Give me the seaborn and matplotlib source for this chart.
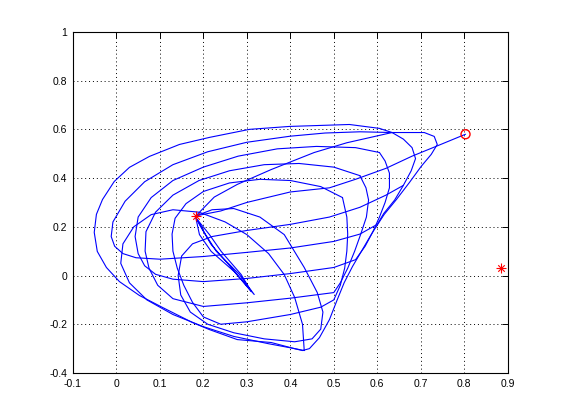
import numpy as np
import pandas as pd
import matplotlib
matplotlib.use("Agg")
import matplotlib.pyplot as plt
import seaborn as sns

# start point, end point and target
start_x, start_y = [0.803], [0.58]
end_x, end_y = [0.182], [0.243]
target_x, target_y = [0.884], [0.029]

# path from the start point to the centre
approach_x = [0.803, 0.735, 0.68, 0.62, 0.55, 0.49, 0.40, 0.30, 0.24, 0.183]
approach_y = [0.58, 0.53, 0.49, 0.44, 0.395, 0.36, 0.343, 0.30, 0.265, 0.245]

# outer loop
loop1_x = [0.634, 0.708, 0.731, 0.738, 0.724, 0.701, 0.674, 0.644, 0.616, 0.589, 0.566, 0.543,
           0.524, 0.508, 0.490, 0.467, 0.444, 0.428, 0.409, 0.356, 0.278, 0.214, 0.175, 0.106,
           0.053, 0.007, -0.023, -0.044, -0.051, -0.046, -0.032, -0.005, 0.030, 0.076, 0.145,
           0.214, 0.306, 0.398, 0.536, 0.605, 0.634]
loop1_y = [0.587, 0.587, 0.571, 0.538, 0.497, 0.448, 0.382, 0.312, 0.251, 0.177, 0.107, 0.037,
           -0.029, -0.099, -0.181, -0.255, -0.300, -0.308, -0.300, -0.275, -0.263, -0.222, -0.193,
           -0.131, -0.082, -0.025, 0.033, 0.099, 0.177, 0.251, 0.312, 0.386, 0.444, 0.489, 0.538,
           0.567, 0.600, 0.612, 0.620, 0.604, 0.587]

# inner loops
loop2_x = [0.634, 0.56, 0.48, 0.40, 0.30, 0.21, 0.13, 0.065, 0.02, -0.008, -0.012, -0.004, 0.015,
           0.045, 0.1, 0.2, 0.3, 0.4, 0.5, 0.56, 0.60, 0.615, 0.64, 0.66, 0.678, 0.688, 0.68,
           0.66, 0.634]
loop2_y = [0.587, 0.59, 0.585, 0.572, 0.547, 0.508, 0.455, 0.385, 0.305, 0.22, 0.16, 0.12, 0.09,
           0.073, 0.067, 0.078, 0.095, 0.113, 0.14, 0.17, 0.21, 0.255, 0.31, 0.37, 0.43, 0.48,
           0.525, 0.56, 0.587]

loop3_x = [0.605, 0.55, 0.46, 0.37, 0.28, 0.2, 0.13, 0.08, 0.05, 0.043, 0.05, 0.065, 0.09, 0.13,
           0.2, 0.3, 0.4, 0.5, 0.55, 0.572, 0.59, 0.605, 0.618, 0.628, 0.628, 0.618, 0.605]
loop3_y = [0.505, 0.525, 0.53, 0.52, 0.49, 0.445, 0.39, 0.32, 0.24, 0.16, 0.09, 0.04, 0.005,
           -0.015, -0.025, -0.012, 0.008, 0.033, 0.065, 0.12, 0.18, 0.24, 0.30, 0.36, 0.42, 0.47,
           0.505]

loop4_x = [0.56, 0.5, 0.42, 0.34, 0.26, 0.19, 0.13, 0.09, 0.068, 0.066, 0.075, 0.095, 0.13, 0.2,
           0.3, 0.4, 0.5, 0.515, 0.532, 0.548, 0.562, 0.575, 0.58, 0.574, 0.56]
loop4_y = [0.41, 0.445, 0.46, 0.455, 0.43, 0.39, 0.33, 0.26, 0.18, 0.1, 0.03, -0.04, -0.095,
           -0.127, -0.112, -0.093, -0.07, -0.03, 0.03, 0.1, 0.17, 0.24, 0.31, 0.36, 0.41]

loop5_x = [0.52, 0.47, 0.40, 0.33, 0.26, 0.2, 0.16, 0.135, 0.128, 0.13, 0.14, 0.155, 0.175, 0.2,
           0.24, 0.3, 0.4, 0.47, 0.5, 0.515, 0.525, 0.53, 0.532, 0.53, 0.52]
loop5_y = [0.32, 0.365, 0.39, 0.395, 0.38, 0.345, 0.295, 0.235, 0.17, 0.1, 0.03, -0.04, -0.11,
           -0.17, -0.2, -0.19, -0.16, -0.13, -0.1, -0.04, 0.03, 0.1, 0.17, 0.24, 0.32]

loop6_x = [0.66, 0.62, 0.56, 0.49, 0.40, 0.30, 0.22, 0.175, 0.15, 0.142, 0.148, 0.17, 0.21, 0.27,
           0.34, 0.41, 0.45, 0.47, 0.475, 0.462, 0.432, 0.386, 0.33, 0.27, 0.22, 0.183]
loop6_y = [0.37, 0.33, 0.28, 0.24, 0.21, 0.185, 0.16, 0.13, 0.08, 0.0, -0.08, -0.15, -0.2, -0.235,
           -0.26, -0.272, -0.26, -0.22, -0.15, -0.07, 0.033, 0.168, 0.24, 0.275, 0.27, 0.245]

loop7_x = [0.432, 0.428, 0.41, 0.386, 0.35, 0.3, 0.25, 0.19, 0.13, 0.08, 0.04, 0.015, 0.01, 0.03,
           0.07, 0.13, 0.2, 0.27, 0.35, 0.41, 0.432]
loop7_y = [-0.308, -0.2, -0.09, 0.004, 0.09, 0.168, 0.22, 0.26, 0.27, 0.25, 0.2, 0.13, 0.05,
           -0.03, -0.1, -0.16, -0.21, -0.25, -0.28, -0.3, -0.308]

ray_x = [0.183, 0.225, 0.278, 0.356, 0.455, 0.53, 0.634]
ray_y = [0.245, 0.322, 0.374, 0.435, 0.505, 0.545, 0.587]

# thin loops from the centre
needle_x = [0.182, 0.191, 0.218, 0.271, 0.317, 0.283, 0.230, 0.205, 0.186, 0.214, 0.241, 0.287,
            0.310, 0.264, 0.218, 0.191, 0.182]
needle_y = [0.242, 0.168, 0.099, 0.016, -0.078, 0.004, 0.099, 0.168, 0.230, 0.168, 0.099, 0.004,
            -0.066, 0.033, 0.127, 0.209, 0.242]

xticks = [-0.1, 0, 0.1, 0.2, 0.3, 0.4, 0.5, 0.6, 0.7, 0.8, 0.9]
xtick_labels = ['-0.1', '0', '0.1', '0.2', '0.3', '0.4', '0.5', '0.6', '0.7', '0.8', '0.9']
yticks = [-0.4, -0.2, 0, 0.2, 0.4, 0.6, 0.8, 1]
ytick_labels = ['-0.4', '-0.2', '0', '0.2', '0.4', '0.6', '0.8', '1']

segments = [(approach_x, approach_y), (loop1_x, loop1_y), (loop2_x, loop2_y),
            (loop3_x, loop3_y), (loop4_x, loop4_y), (loop5_x, loop5_y),
            (loop6_x, loop6_y), (loop7_x, loop7_y), (ray_x, ray_y), (needle_x, needle_y)]
rows = []
for i, (xs, ys) in enumerate(segments):
    for xv, yv in zip(xs, ys):
        rows.append({'seg': i, 'x': xv, 'y': yv})
df = pd.DataFrame(rows)

sns.set_style('white')
plt.rcParams['font.family'] = ['Liberation Sans', 'DejaVu Sans']

fig = plt.figure(figsize=(5.61, 4.2), dpi=100)
ax = fig.add_axes([0.130, 0.112, 0.775, 0.812])

sns.lineplot(data=df, x='x', y='y', units='seg', estimator=None, sort=False,
             color='blue', linewidth=0.8, legend=False, ax=ax)

sns.scatterplot(x=start_x, y=start_y, marker='o', s=42, facecolor='none',
                edgecolor='red', linewidth=1.0, ax=ax, zorder=5)
for mx, my in [(end_x, end_y), (target_x, target_y)]:
    sns.scatterplot(x=mx, y=my, marker='+', s=45, color='red', linewidth=0.8, ax=ax, zorder=5)
    sns.scatterplot(x=mx, y=my, marker='x', s=22, color='red', linewidth=0.8, ax=ax, zorder=5)

ax.set_xlim(-0.1, 0.9)
ax.set_ylim(-0.4, 1)
ax.set_xticks(xticks)
ax.set_xticklabels(xtick_labels)
ax.set_yticks(yticks)
ax.set_yticklabels(ytick_labels)
ax.set_xlabel('')
ax.set_ylabel('')
ax.grid(True, color='black', linestyle=(0, (1, 3)), linewidth=0.7)
ax.tick_params(direction='in', length=4, width=0.7, labelsize=7.5, top=True, right=True,
               colors='black', pad=4)
for sp in ax.spines.values():
    sp.set_visible(True)
    sp.set_color('black')
    sp.set_linewidth(0.8)

fig.savefig('out.png', dpi=100, facecolor='white')
